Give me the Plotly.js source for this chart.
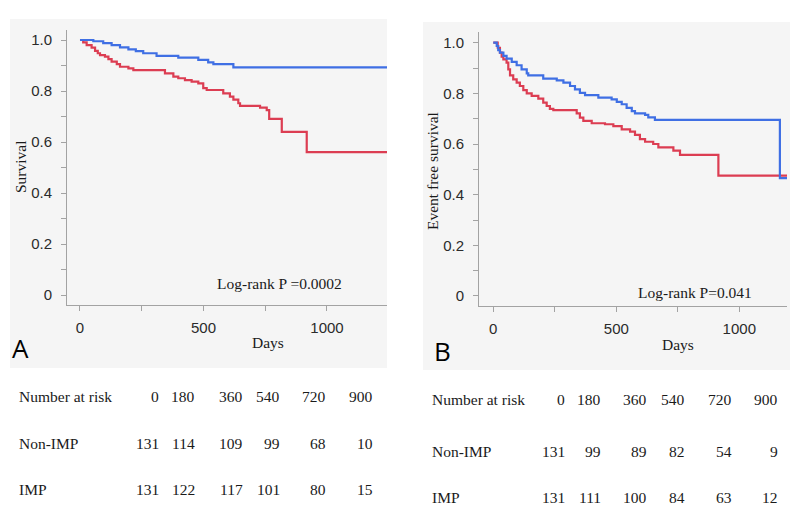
<!DOCTYPE html>
<html>
<head>
<meta charset="utf-8">
<script src="https://cdn.plot.ly/plotly-3.0.1.min.js"></script>
<style>
  html, body { margin: 0; padding: 0; background: #fff; }
  #chart { width: 800px; height: 517px; }
</style>
</head>
<body>
<div id="chart"></div>
<script>
// ---- Panel A: overall survival (Kaplan-Meier step points) ----
const daysA_imp = [0, 54, 94, 128, 162, 196, 226, 256, 310, 398, 479, 519, 540, 621, 1250];
const survA_imp = [1, 0.995, 0.988, 0.980, 0.971, 0.963, 0.956, 0.948, 0.938, 0.931, 0.922, 0.912, 0.905, 0.893, 0.893];

const daysA_nonimp = [0, 13, 27, 47, 61, 72, 81, 101, 115, 128, 149, 162, 196, 216, 344, 378, 398, 425, 452, 479, 499, 513, 580, 607, 621, 641, 648, 729, 756, 766, 817, 918, 1250];
const survA_nonimp = [1, 0.991, 0.980, 0.970, 0.957, 0.948, 0.941, 0.935, 0.925, 0.915, 0.905, 0.895, 0.889, 0.882, 0.869, 0.856, 0.850, 0.843, 0.837, 0.830, 0.811, 0.804, 0.791, 0.778, 0.766, 0.752, 0.742, 0.735, 0.725, 0.691, 0.640, 0.560, 0.560];

// ---- Panel B: event free survival ----
const daysB_imp = [0, 14, 20, 27, 41, 54, 75, 95, 115, 136, 142, 203, 258, 285, 312, 332, 352, 373, 427, 481, 502, 522, 542, 563, 576, 617, 630, 657, 1165, 1200];
const survB_imp = [1, 0.987, 0.971, 0.961, 0.948, 0.937, 0.924, 0.911, 0.895, 0.879, 0.871, 0.858, 0.851, 0.842, 0.829, 0.816, 0.802, 0.793, 0.783, 0.776, 0.766, 0.757, 0.743, 0.730, 0.721, 0.715, 0.705, 0.695, 0.465, 0.465];

const daysB_nonimp = [0, 18, 27, 34, 41, 54, 61, 68, 81, 95, 108, 122, 136, 156, 183, 203, 217, 230, 244, 339, 352, 366, 400, 454, 488, 522, 556, 576, 596, 617, 650, 671, 732, 759, 915, 1200];
const survB_nonimp = [1, 0.980, 0.961, 0.945, 0.934, 0.921, 0.895, 0.871, 0.855, 0.842, 0.829, 0.813, 0.800, 0.790, 0.779, 0.763, 0.750, 0.739, 0.734, 0.721, 0.704, 0.691, 0.682, 0.678, 0.671, 0.658, 0.649, 0.636, 0.619, 0.609, 0.600, 0.587, 0.574, 0.557, 0.475, 0.475];

// ---- Number-at-risk tables ----
const riskTimes = [0, 180, 360, 540, 720, 900];
const riskA_nonimp = [131, 114, 109, 99, 68, 10];
const riskA_imp = [131, 122, 117, 101, 80, 15];
const riskB_nonimp = [131, 99, 89, 82, 54, 9];
const riskB_imp = [131, 111, 100, 84, 63, 12];

const pTextA = 'Log-rank P =0.0002';
const pTextB = 'Log-rank P=0.041';

// ---- styling ----
const W = 800, H = 517;
const BLUE = '#3f6fe4';
const RED = '#dc3d52';
const AXIS = '#a3a3a3';
const PANEL_BG = '#f5f5f5';
const SERIF = 'Liberation Serif, Times New Roman, serif';
const SANS = 'Liberation Sans, Arial, sans-serif';
const px = v => v / W;
const py = v => 1 - v / H;

function stepTrace(x, y, color, name, xa, ya) {
  return {
    type: 'scatter', mode: 'lines', name: name,
    x: x, y: y, xaxis: xa, yaxis: ya,
    line: { shape: 'hv', color: color, width: 2.2 },
    hoverinfo: 'skip'
  };
}

const traces = [
  stepTrace(daysA_nonimp, survA_nonimp, RED, 'Non-IMP', 'x', 'y'),
  stepTrace(daysA_imp, survA_imp, BLUE, 'IMP', 'x', 'y'),
  stepTrace(daysB_nonimp, survB_nonimp, RED, 'Non-IMP', 'x2', 'y2'),
  stepTrace(daysB_imp, survB_imp, BLUE, 'IMP', 'x2', 'y2')
];

function xAxis(domain, range, anchor) {
  return {
    domain: domain, range: range, anchor: anchor,
    tickmode: 'array', tickvals: [0, 500, 1000],
    ticks: 'outside', ticklen: 5, tickwidth: 1, tickcolor: AXIS,
    minor: { tickvals: [250, 750], ticks: 'outside', ticklen: 5, tickwidth: 1, tickcolor: AXIS },
    showline: true, linecolor: AXIS, linewidth: 1,
    showgrid: false, zeroline: false, fixedrange: true,
    ticklabelstandoff: 4,
    tickfont: { family: SANS, size: 15, color: '#2b2b2b' }
  };
}
function yAxis(domain, range, anchor) {
  return {
    domain: domain, range: range, anchor: anchor,
    tickmode: 'array', tickvals: [0, 0.2, 0.4, 0.6, 0.8, 1.0],
    ticktext: ['0', '0.2', '0.4', '0.6', '0.8', '1.0'],
    ticks: 'outside', ticklen: 5, tickwidth: 1, tickcolor: AXIS,
    minor: { tickvals: [0.1, 0.3, 0.5, 0.7, 0.9], ticks: 'outside', ticklen: 5, tickwidth: 1, tickcolor: AXIS },
    showline: true, linecolor: AXIS, linewidth: 1,
    showgrid: false, zeroline: false, fixedrange: true,
    ticklabelstandoff: 6,
    tickfont: { family: SANS, size: 15, color: '#2b2b2b' }
  };
}

const annotations = [];
function label(text, x, y, opts) {
  annotations.push(Object.assign({
    text: text, xref: 'paper', yref: 'paper', x: px(x), y: py(y),
    xanchor: 'center', yanchor: 'middle', showarrow: false,
    font: { family: SERIF, size: 15.5, color: '#1a1a1a' }
  }, opts || {}));
}

// axis titles and p-values
label('Survival', 20, 167, { textangle: -90 });
label('Days', 267.5, 342);
label(pTextA, 279, 283);
label('Event free survival', 433, 171, { textangle: -90 });
label('Days', 677.5, 344);
label(pTextB, 695, 292);
// panel letters
label('A', 20, 348, { font: { family: 'Open Sans, sans-serif', size: 26, color: '#000' } });
label('B', 442.5, 351, { font: { family: 'Open Sans, sans-serif', size: 26, color: '#000' } });

// number-at-risk tables
function riskTable(left, colRight, rowY, nonimp, imp) {
  const rows = [['Number at risk', riskTimes], ['Non-IMP', nonimp], ['IMP', imp]];
  rows.forEach((row, r) => {
    label(row[0], left, rowY[r], { xanchor: 'left' });
    row[1].forEach((v, c) => label(String(v), colRight[c], rowY[r], { xanchor: 'right' }));
  });
}
riskTable(17, [161, 197, 245, 282, 328, 375], [396.5, 443, 490], riskA_nonimp, riskA_imp);
riskTable(430, [567, 602.5, 648.5, 687, 733.5, 780], [399, 451, 497], riskB_nonimp, riskB_imp);

const shapes = [
  { type: 'rect', xref: 'paper', yref: 'paper', layer: 'below',
    x0: px(10), x1: px(387), y0: py(368), y1: py(19), fillcolor: PANEL_BG, line: { width: 0 } },
  { type: 'rect', xref: 'paper', yref: 'paper', layer: 'below',
    x0: px(423), x1: px(790), y0: py(370), y1: py(22), fillcolor: PANEL_BG, line: { width: 0 } }
];

const layout = {
  width: W, height: H,
  margin: { l: 0, r: 0, t: 0, b: 0 },
  paper_bgcolor: '#ffffff', plot_bgcolor: '#ffffff',
  showlegend: false,
  xaxis: xAxis([px(67), px(387)], [-52.6, 1243], 'y'),
  yaxis: yAxis([py(305), py(30)], [-0.0392, 1.0392], 'x'),
  xaxis2: xAxis([px(479), px(787)], [-58.1, 1193.9], 'y2'),
  yaxis2: yAxis([py(306), py(32)], [-0.0395, 1.0422], 'x2'),
  shapes: shapes,
  annotations: annotations
};

Plotly.newPlot('chart', traces, layout, { staticPlot: true, displayModeBar: false });
</script>
</body>
</html>
